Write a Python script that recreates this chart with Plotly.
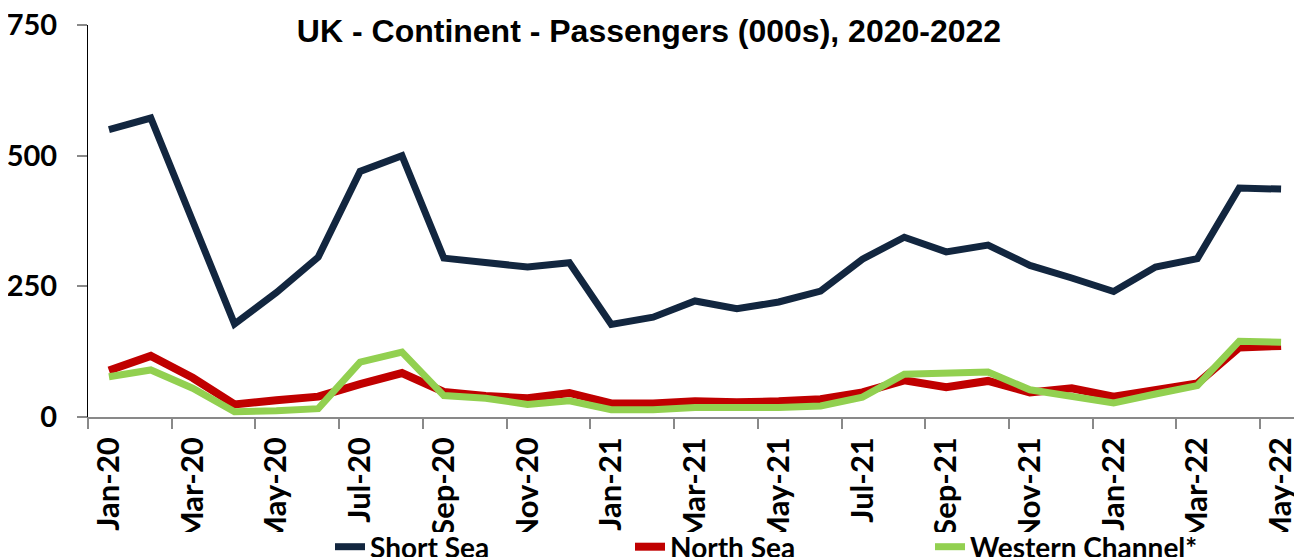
import plotly.graph_objects as go

months = ["Jan-20", "Feb-20", "Mar-20", "Apr-20", "May-20", "Jun-20", "Jul-20", "Aug-20",
          "Sep-20", "Oct-20", "Nov-20", "Dec-20", "Jan-21", "Feb-21", "Mar-21", "Apr-21",
          "May-21", "Jun-21", "Jul-21", "Aug-21", "Sep-21", "Oct-21", "Nov-21", "Dec-21",
          "Jan-22", "Feb-22", "Mar-22", "Apr-22", "May-22"]

short_sea = [550, 572, 375, 178, 238, 306, 470, 500, 304, 295, 287, 295, 177, 191, 222, 207,
             220, 241, 302, 344, 316, 329, 290, 266, 240, 287, 303, 438, 436]
north_sea = [89, 117, 75, 24, 32, 39, 63, 84, 48, 40, 36, 46, 26, 26, 30, 28,
             30, 34, 47, 70, 57, 69, 47, 55, 39, 51, 64, 133, 136]
western_channel = [77, 90, 55, 10, 12, 16, 105, 124, 41, 36, 24, 31, 14, 14, 18, 17,
                   18, 21, 38, 82, 84, 86, 52, 38, 27, 44, 60, 145, 143]

y_ticks = [0, 250, 500, 750]

FONT = "Lato"
W, H = 1294, 549  # page body has an 8px margin

fig = go.Figure()
fig.add_trace(go.Scatter(x=months, y=short_sea, name="Short Sea", mode="lines",
                         line=dict(color="#12263F", width=7)))
fig.add_trace(go.Scatter(x=months, y=north_sea, name="North Sea", mode="lines",
                         line=dict(color="#C00000", width=8)))
fig.add_trace(go.Scatter(x=months, y=western_channel, name="Western Channel*", mode="lines",
                         line=dict(color="#92D050", width=7)))

fig.update_layout(
    width=W, height=H,
    margin=dict(l=80, r=0, t=17, b=140),
    paper_bgcolor="white", plot_bgcolor="white",
    title=dict(text="<b>UK - Continent - Passengers (000s), 2020-2022</b>",
               font=dict(family="Liberation Sans", size=32, color="black"),
               x=641 / W, xanchor="center", y=1 - 23 / H, yanchor="middle"),
    showlegend=True,
    legend=dict(orientation="h", xref="container", yref="container",
                x=322 / W, xanchor="left", y=1 - 539 / H, yanchor="middle",
                font=dict(family=FONT, size=28, color="black", weight="bold"),
                entrywidth=255, bgcolor="rgba(0,0,0,0)"),
    xaxis=dict(type="category", range=[-0.5, 28.5], showgrid=False, automargin=False,
               tickmode="linear", dtick=2, tickson="boundaries",
               ticks="outside", ticklen=10, tickcolor="#898989", tickwidth=1.5,
               showline=True, linecolor="#898989", linewidth=1.5,
               tickangle=-90, ticklabelstandoff=6, ticklabeloverflow="allow",
               tickfont=dict(family=FONT, size=31, color="black", weight="bold")),
    yaxis=dict(range=[0, 750], tickvals=y_ticks, showgrid=False, zeroline=False,
               automargin=False, ticklabeloverflow="allow",
               ticks="outside", ticklen=10, tickcolor="#898989", tickwidth=1.5,
               showline=True, linecolor="black", linewidth=1,
               ticklabelstandoff=14,
               tickfont=dict(family=FONT, size=29, color="black", weight="bold")),
    shapes=[dict(type="rect", xref="paper", yref="paper", x0=-0.1, x1=1.1,
                 y0=(409 - 524) / 392, y1=(409 - 600) / 392,
                 fillcolor="white", line=dict(width=0), layer="above")],
)

fig.write_html("out.html")
